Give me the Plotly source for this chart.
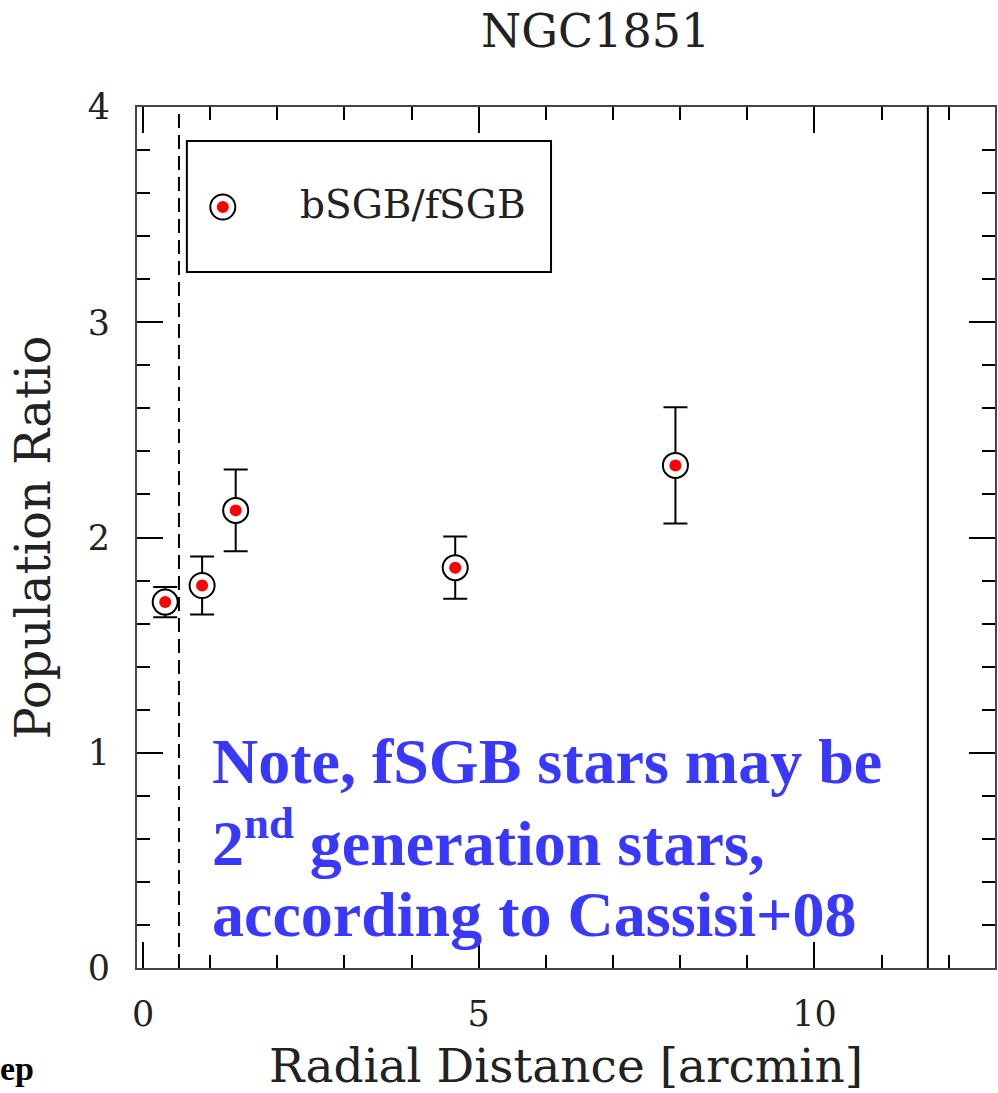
import plotly.graph_objects as go

# Radial bins of NGC1851 and the bright/faint SGB population ratio
radius_arcmin = [0.33, 0.88, 1.38, 4.65, 7.93]
ratio = [1.70, 1.777, 2.126, 1.86, 2.335]
ratio_err = [0.07, 0.135, 0.19, 0.145, 0.27]

# Reference radii marked with vertical lines
core_radius = 0.535
tidal_radius = 11.69

x_ticks = [0, 5, 10]
y_ticks = [0, 1, 2, 3, 4]

SERIF = "DejaVu Serif"
INK = "#222222"
FRAME = "#444444"

fig = go.Figure()

# open rings with error bars
fig.add_trace(go.Scatter(
    x=radius_arcmin, y=ratio, mode="markers",
    marker=dict(symbol="circle", size=25, color="white",
                line=dict(color="black", width=2)),
    error_y=dict(type="data", array=ratio_err, color="black",
                 thickness=2, width=12),
    showlegend=False, hoverinfo="skip",
))
# red dots inside the rings
fig.add_trace(go.Scatter(
    x=radius_arcmin, y=ratio, mode="markers",
    marker=dict(symbol="circle", size=12, color="red"),
    showlegend=False,
))

W, H = 998, 1093
L, R, T, B = 137, 1, 107, 125
PW, PH = W - L - R, H - T - B


def px(xp):
    return (xp - L) / PW


def py(yp):
    return (H - B - yp) / PH


shapes = [
    dict(type="line", xref="x", yref="paper", x0=core_radius, x1=core_radius,
         y0=0, y1=1, line=dict(color="black", width=2, dash="14px,7px")),
    dict(type="line", xref="x", yref="paper", x0=tidal_radius, x1=tidal_radius,
         y0=0, y1=1, line=dict(color="black", width=2)),
    # legend frame
    dict(type="rect", xref="paper", yref="paper",
         x0=px(187), x1=px(552), y0=py(272), y1=py(141),
         line=dict(color="black", width=2), fillcolor="white"),
    # legend symbol: ring + dot
    dict(type="circle", xref="paper", yref="paper", xsizemode="pixel", ysizemode="pixel",
         xanchor=px(223), yanchor=py(207), x0=-12.5, x1=12.5, y0=-12.5, y1=12.5,
         line=dict(color="black", width=2), fillcolor="white"),
    dict(type="circle", xref="paper", yref="paper", xsizemode="pixel", ysizemode="pixel",
         xanchor=px(223), yanchor=py(207), x0=-6, x1=6, y0=-6, y1=6,
         line=dict(width=0), fillcolor="red"),
]

blue = "#3838ff"
note_lines = [
    ("<b>Note, fSGB stars may be</b>", 761),
    ("<b>2<sup>nd</sup> generation stars,</b>", 838),
    ("<b>according to Cassisi+08</b>", 914),
]
annotations = [
    dict(text="NGC1851", xref="paper", yref="paper", x=px(597), y=py(31),
         xanchor="center", yanchor="middle", showarrow=False,
         font=dict(family=SERIF, size=46, color=INK)),
    dict(text="bSGB/fSGB", xref="paper", yref="paper", x=px(298), y=py(205),
         xanchor="left", yanchor="middle", showarrow=False,
         font=dict(family=SERIF, size=39, color=INK)),
    dict(text="<b>ep</b>", xref="paper", yref="paper", x=px(-2), y=py(1068),
         xanchor="left", yanchor="middle", showarrow=False,
         font=dict(family="Liberation Serif", size=34, color="black")),
]
for txt, ymid in note_lines:
    annotations.append(dict(
        text=txt, xref="paper", yref="paper", x=px(210), y=py(ymid),
        xanchor="left", yanchor="middle", showarrow=False,
        font=dict(family="Liberation Serif", size=64, color=blue)))

axis_common = dict(
    showline=True, linecolor=FRAME, linewidth=2, mirror="allticks",
    ticks="inside", ticklen=26, tickwidth=2, tickcolor="black",
    showgrid=False, zeroline=False,
    tickfont=dict(family=SERIF, size=35, color=INK),
)

fig.update_layout(
    width=W, height=H,
    margin=dict(l=L, r=R, t=T, b=B),
    paper_bgcolor="white", plot_bgcolor="white",
    shapes=shapes, annotations=annotations,
    xaxis=dict(
        range=[-0.09, 12.69], tickvals=x_ticks,
        minor=dict(dtick=1, tick0=0, ticks="inside", ticklen=13,
                   tickwidth=2, tickcolor="black", showgrid=False),
        ticklabelstandoff=14,
        title=dict(text="Radial Distance [arcmin]", standoff=20,
                   font=dict(family=SERIF, size=47, color=INK)),
        **axis_common,
    ),
    yaxis=dict(
        range=[0, 4], tickvals=y_ticks,
        minor=dict(dtick=0.2, tick0=0, ticks="inside", ticklen=13,
                   tickwidth=2, tickcolor="black", showgrid=False),
        ticklabelstandoff=18,
        title=dict(text="Population Ratio", standoff=22,
                   font=dict(family=SERIF, size=48, color=INK)),
        **axis_common,
    ),
)

fig.write_html("out.html")
